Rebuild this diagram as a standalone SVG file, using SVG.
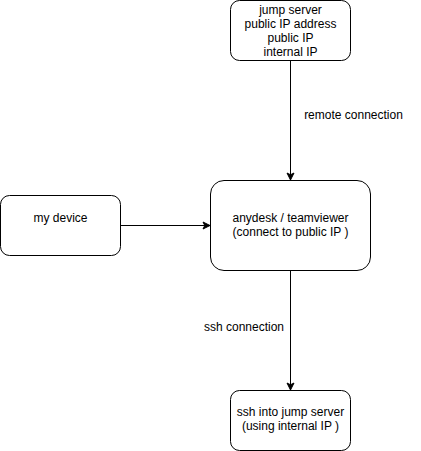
<svg xmlns="http://www.w3.org/2000/svg" width="421" height="451" viewBox="0 0 421 451">
<defs>
<style>
.box{fill:#fff;stroke:#000;stroke-width:1}
.t{font-family:"Liberation Sans",Arial,sans-serif;font-size:12px;fill:#000;text-anchor:middle}
.edge{fill:none;stroke:#000;stroke-width:1}
</style>
<marker id="arr" markerWidth="10" markerHeight="10" refX="8" refY="5" orient="auto" markerUnits="userSpaceOnUse">
<path d="M1,1.5 L8,5 L1,8.5 L2.75,5 Z" fill="#000" stroke="#000" stroke-width="1"/>
</marker>
</defs>
<rect width="421" height="451" fill="#fff"/>
<g id="connectors">
<path class="edge" d="M290.5,60.5 L290.5,180" marker-end="url(#arr)"/>
<path class="edge" d="M120.5,225.5 L210,225.5" marker-end="url(#arr)"/>
<path class="edge" d="M290.5,270.5 L290.5,390" marker-end="url(#arr)"/>
<text class="t" x="353.5" y="119">remote connection</text>
<text class="t" x="244" y="331">ssh connection</text>
</g>
<g id="jump-server">
<rect class="box" x="230.5" y="0.5" width="120" height="60" rx="9" ry="9"/>
<text class="t" x="290.5" y="14">jump server</text>
<text class="t" x="290.5" y="28">public IP address</text>
<text class="t" x="290.5" y="42">public IP</text>
<text class="t" x="290.5" y="56">internal IP</text>
</g>
<g id="my-device">
<rect class="box" x="0.5" y="195.5" width="120" height="60" rx="9" ry="9"/>
<text class="t" x="60.5" y="222">my device</text>
</g>
<g id="anydesk">
<rect class="box" x="210.5" y="180.5" width="160" height="90" rx="13.5" ry="13.5"/>
<text class="t" x="290.5" y="222">anydesk / teamviewer</text>
<text class="t" x="290.5" y="236">(connect to public IP )</text>
</g>
<g id="ssh-jump">
<rect class="box" x="230.5" y="390.5" width="120" height="60" rx="9" ry="9"/>
<text class="t" x="290.5" y="416">ssh into jump server</text>
<text class="t" x="290.5" y="430">(using internal IP )</text>
</g>
</svg>
